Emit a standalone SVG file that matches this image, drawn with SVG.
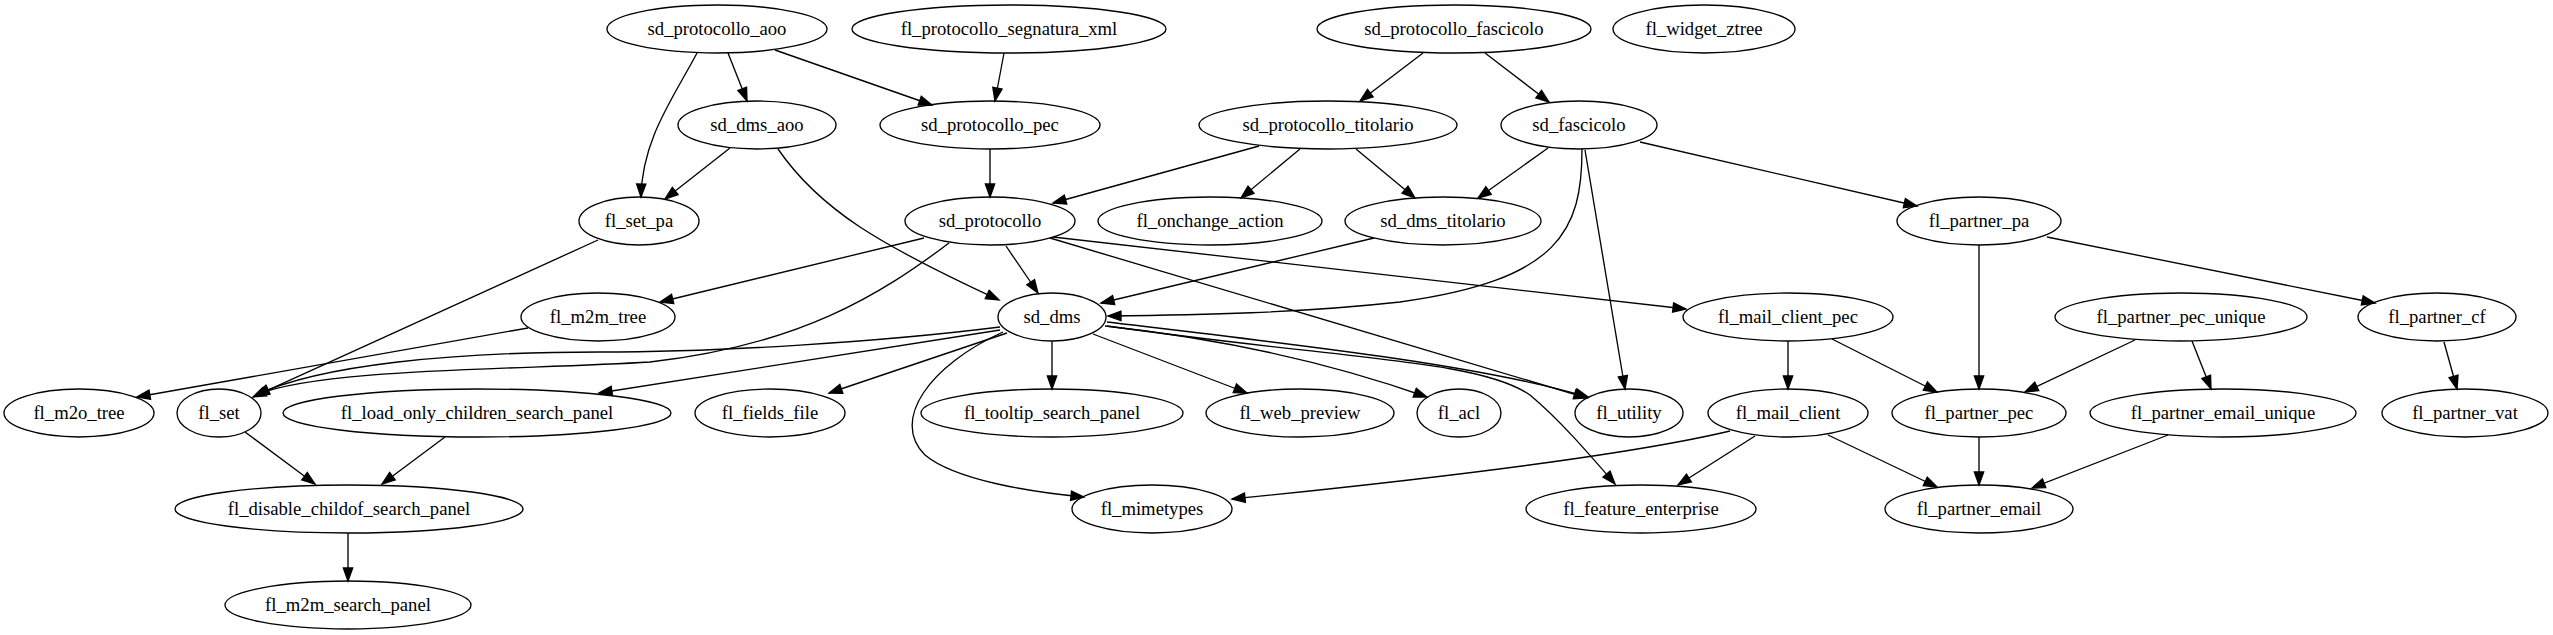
<svg xmlns="http://www.w3.org/2000/svg" width="2553" height="635" viewBox="0 0 2553 635">
<style>
.n ellipse{fill:none;stroke:#000;stroke-width:1.33}
.n text{font-family:"Liberation Serif","Times New Roman",serif;font-size:18.67px;text-anchor:middle;fill:#000}
#edges path{fill:none;stroke:#000;stroke-width:1.33;marker-end:url(#ah)}
</style>
<defs>
<marker id="ah" markerUnits="userSpaceOnUse" markerWidth="16" markerHeight="12" refX="14" refY="5.67" orient="auto" overflow="visible">
<path d="M1,1 L14,5.67 L1,10.33 z" fill="#000" stroke="#000" stroke-width="1.33"/>
</marker>
</defs>
<rect width="2553" height="635" fill="#fff"/>
<g id="edges">
<path d="M728,53 L747,101"/>
<path d="M697,53 C672,100 642,140 641,197"/>
<path d="M775,50 L932,105"/>
<path d="M1004,53 L995,101"/>
<path d="M1423,53 L1360,101"/>
<path d="M1485,53 L1549,102"/>
<path d="M730,148 L665,199"/>
<path d="M778,149 C820,210 880,245 999,300"/>
<path d="M990,149 L990,197"/>
<path d="M1259,146 L1053,203"/>
<path d="M1300,149 L1241,198"/>
<path d="M1356,149 L1415,198"/>
<path d="M1548,148 L1478,198"/>
<path d="M1582,149 C1582,230 1560,280 1400,302 C1300,313 1200,315 1108,316"/>
<path d="M1585,150 L1625,389"/>
<path d="M1640,142 L1917,206"/>
<path d="M598,240 L253,397"/>
<path d="M924,238 L660,302"/>
<path d="M949,243 C880,295 800,345 650,362 C520,370 320,368 256,395"/>
<path d="M1006,246 L1038,293"/>
<path d="M1050,238 L1587,398"/>
<path d="M1053,237 L1686,309"/>
<path d="M1374,238 L1101,303"/>
<path d="M1979,245 L1979,389"/>
<path d="M2047,237 L2375,303"/>
<path d="M528,328 L137,397"/>
<path d="M1000,327 C880,342 720,352 600,352 C450,352 320,365 256,395"/>
<path d="M1000,330 L599,393"/>
<path d="M1007,333 L829,393"/>
<path d="M1052,341 L1052,389"/>
<path d="M1093,334 L1247,393"/>
<path d="M1105,326 Q1280,345 1427,397"/>
<path d="M1107,322 C1300,345 1480,365 1588,397"/>
<path d="M1107,326 C1350,360 1480,360 1530,395 C1560,420 1590,455 1615,484"/>
<path d="M1003,332 C930,365 890,420 925,455 C955,480 1030,492 1084,497"/>
<path d="M1788,341 L1788,389"/>
<path d="M1832,339 L1937,392"/>
<path d="M2135,340 L2025,392"/>
<path d="M2192,341 L2211,389"/>
<path d="M2444,342 L2457,389"/>
<path d="M245,432 L315,484"/>
<path d="M445,437 L382,484"/>
<path d="M348,533 L348,581"/>
<path d="M1730,431 Q1600,462 1232,499"/>
<path d="M1755,436 L1678,485"/>
<path d="M1828,435 L1937,487"/>
<path d="M1979,437 L1979,485"/>
<path d="M2168,435 L2032,488"/>
</g>
<g id="sd_protocollo_aoo" class="n"><ellipse cx="717" cy="29" rx="110" ry="24"/><text x="717" y="34.6">sd_protocollo_aoo</text></g>
<g id="fl_protocollo_segnatura_xml" class="n"><ellipse cx="1009" cy="29" rx="157" ry="24"/><text x="1009" y="34.6">fl_protocollo_segnatura_xml</text></g>
<g id="sd_protocollo_fascicolo" class="n"><ellipse cx="1454" cy="29" rx="137" ry="24"/><text x="1454" y="34.6">sd_protocollo_fascicolo</text></g>
<g id="fl_widget_ztree" class="n"><ellipse cx="1704" cy="29" rx="91" ry="24"/><text x="1704" y="34.6">fl_widget_ztree</text></g>
<g id="sd_dms_aoo" class="n"><ellipse cx="757" cy="125" rx="79" ry="24"/><text x="757" y="130.6">sd_dms_aoo</text></g>
<g id="sd_protocollo_pec" class="n"><ellipse cx="990" cy="125" rx="110" ry="24"/><text x="990" y="130.6">sd_protocollo_pec</text></g>
<g id="sd_protocollo_titolario" class="n"><ellipse cx="1328" cy="125" rx="129" ry="24"/><text x="1328" y="130.6">sd_protocollo_titolario</text></g>
<g id="sd_fascicolo" class="n"><ellipse cx="1579" cy="125" rx="78" ry="24"/><text x="1579" y="130.6">sd_fascicolo</text></g>
<g id="fl_set_pa" class="n"><ellipse cx="639" cy="221" rx="60" ry="24"/><text x="639" y="226.6">fl_set_pa</text></g>
<g id="sd_protocollo" class="n"><ellipse cx="990" cy="221" rx="85" ry="24"/><text x="990" y="226.6">sd_protocollo</text></g>
<g id="fl_onchange_action" class="n"><ellipse cx="1210" cy="221" rx="112" ry="24"/><text x="1210" y="226.6">fl_onchange_action</text></g>
<g id="sd_dms_titolario" class="n"><ellipse cx="1443" cy="221" rx="98" ry="24"/><text x="1443" y="226.6">sd_dms_titolario</text></g>
<g id="fl_partner_pa" class="n"><ellipse cx="1979" cy="221" rx="82" ry="24"/><text x="1979" y="226.6">fl_partner_pa</text></g>
<g id="fl_m2m_tree" class="n"><ellipse cx="598" cy="317" rx="77" ry="24"/><text x="598" y="322.6">fl_m2m_tree</text></g>
<g id="sd_dms" class="n"><ellipse cx="1052" cy="317" rx="54" ry="24"/><text x="1052" y="322.6">sd_dms</text></g>
<g id="fl_mail_client_pec" class="n"><ellipse cx="1788" cy="317" rx="105" ry="24"/><text x="1788" y="322.6">fl_mail_client_pec</text></g>
<g id="fl_partner_pec_unique" class="n"><ellipse cx="2181" cy="317" rx="126" ry="24"/><text x="2181" y="322.6">fl_partner_pec_unique</text></g>
<g id="fl_partner_cf" class="n"><ellipse cx="2437" cy="317" rx="79" ry="24"/><text x="2437" y="322.6">fl_partner_cf</text></g>
<g id="fl_m2o_tree" class="n"><ellipse cx="79" cy="413" rx="75" ry="24"/><text x="79" y="418.6">fl_m2o_tree</text></g>
<g id="fl_set" class="n"><ellipse cx="219" cy="413" rx="42" ry="24"/><text x="219" y="418.6">fl_set</text></g>
<g id="fl_load_only_children_search_panel" class="n"><ellipse cx="477" cy="413" rx="194" ry="24"/><text x="477" y="418.6">fl_load_only_children_search_panel</text></g>
<g id="fl_fields_file" class="n"><ellipse cx="770" cy="413" rx="75" ry="24"/><text x="770" y="418.6">fl_fields_file</text></g>
<g id="fl_tooltip_search_panel" class="n"><ellipse cx="1052" cy="413" rx="131" ry="24"/><text x="1052" y="418.6">fl_tooltip_search_panel</text></g>
<g id="fl_web_preview" class="n"><ellipse cx="1300" cy="413" rx="94" ry="24"/><text x="1300" y="418.6">fl_web_preview</text></g>
<g id="fl_acl" class="n"><ellipse cx="1459" cy="413" rx="42" ry="24"/><text x="1459" y="418.6">fl_acl</text></g>
<g id="fl_utility" class="n"><ellipse cx="1629" cy="413" rx="54" ry="24"/><text x="1629" y="418.6">fl_utility</text></g>
<g id="fl_mail_client" class="n"><ellipse cx="1788" cy="413" rx="80" ry="24"/><text x="1788" y="418.6">fl_mail_client</text></g>
<g id="fl_partner_pec" class="n"><ellipse cx="1979" cy="413" rx="87" ry="24"/><text x="1979" y="418.6">fl_partner_pec</text></g>
<g id="fl_partner_email_unique" class="n"><ellipse cx="2223" cy="413" rx="133" ry="24"/><text x="2223" y="418.6">fl_partner_email_unique</text></g>
<g id="fl_partner_vat" class="n"><ellipse cx="2465" cy="413" rx="83" ry="24"/><text x="2465" y="418.6">fl_partner_vat</text></g>
<g id="fl_disable_childof_search_panel" class="n"><ellipse cx="349" cy="509" rx="174" ry="24"/><text x="349" y="514.6">fl_disable_childof_search_panel</text></g>
<g id="fl_mimetypes" class="n"><ellipse cx="1152" cy="509" rx="80" ry="24"/><text x="1152" y="514.6">fl_mimetypes</text></g>
<g id="fl_feature_enterprise" class="n"><ellipse cx="1641" cy="509" rx="115" ry="24"/><text x="1641" y="514.6">fl_feature_enterprise</text></g>
<g id="fl_partner_email" class="n"><ellipse cx="1979" cy="509" rx="94" ry="24"/><text x="1979" y="514.6">fl_partner_email</text></g>
<g id="fl_m2m_search_panel" class="n"><ellipse cx="348" cy="605" rx="123" ry="24"/><text x="348" y="610.6">fl_m2m_search_panel</text></g>
</svg>
